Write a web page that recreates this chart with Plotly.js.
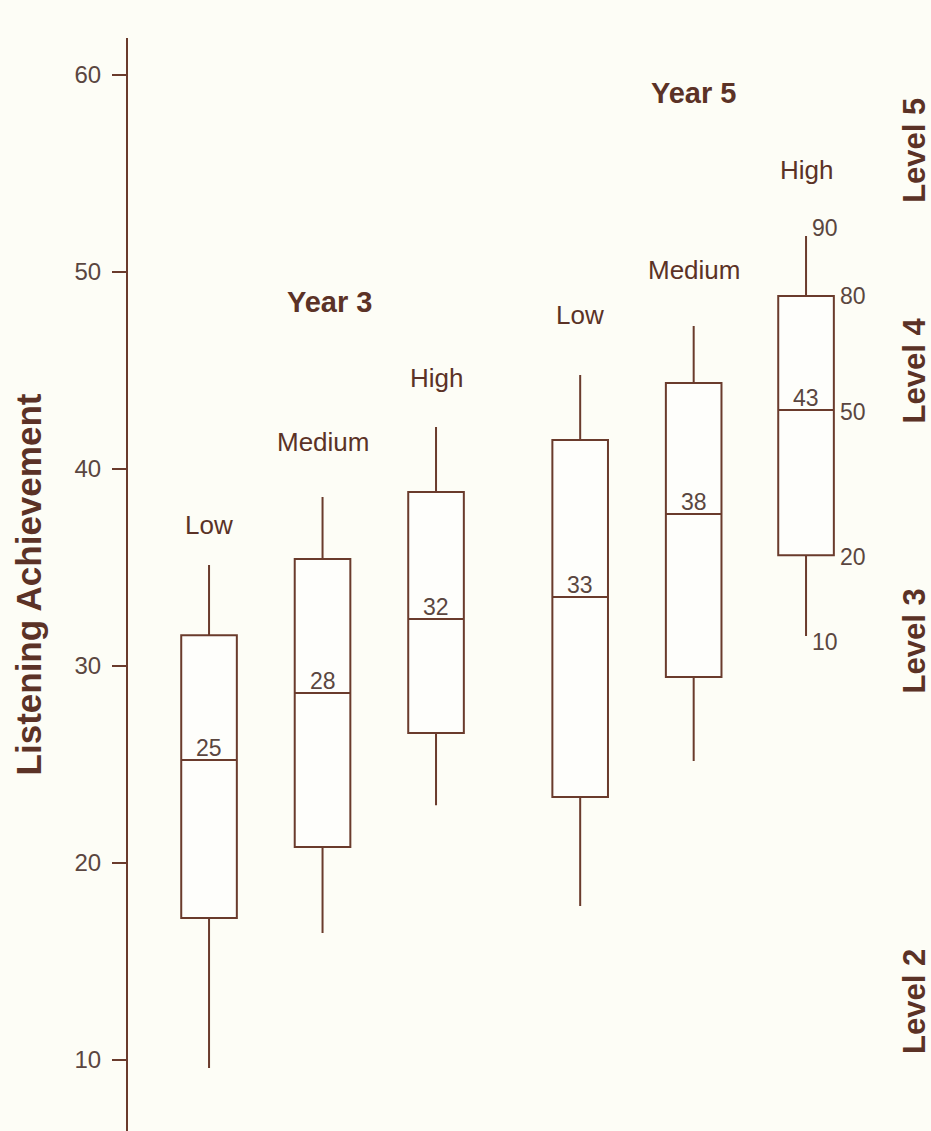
<!DOCTYPE html>
<html>
<head>
<meta charset="utf-8">
<script src="https://cdn.plot.ly/plotly-3.0.1.min.js"></script>
<style>
  html, body { margin: 0; padding: 0; background: #fdfdf6; }
  #chart { width: 931px; height: 1131px; }
</style>
</head>
<body>
<div id="chart"></div>
<script>
// ---- data ----
const groups = ['Year 3', 'Year 3', 'Year 3', 'Year 5', 'Year 5', 'Year 5'];
const categories = ['Low', 'Medium', 'High', 'Low', 'Medium', 'High'];
const positions = [1, 2, 3, 4.27, 5.27, 6.26];
const p10 = [9.6, 16.45, 22.94, 17.82, 25.18, 31.52];
const p20 = [17.21, 20.81, 26.6, 23.35, 29.44, 35.63];
const p50 = [25.23, 28.63, 32.39, 33.5, 37.72, 43.0];
const p80 = [31.57, 35.43, 38.83, 41.47, 44.37, 48.78];
const p90 = [35.13, 38.58, 42.13, 44.77, 47.26, 51.83];
const medianLabels = ['25', '28', '32', '33', '38', '43'];
const percentileLabels = ['90', '80', '50', '20', '10'];
const levels = ['Level 5', 'Level 4', 'Level 3', 'Level 2'];
const yTicks = [10, 20, 30, 40, 50, 60];

// ---- styles ----
const LINE = '#6a3b2c';
const TEXT = '#5b3226';
const TICKTEXT = '#5a4640';
const FONT = 'Liberation Sans, Arial, Helvetica, sans-serif';

const trace = {
  type: 'box',
  x: positions,
  q1: p20,
  median: p50,
  q3: p80,
  lowerfence: p10,
  upperfence: p90,
  width: 0.49,
  whiskerwidth: 0,
  boxpoints: false,
  fillcolor: '#fefefb',
  line: { color: LINE, width: 2 },
  hoverinfo: 'skip',
  showlegend: false
};

const annotations = [];

// category labels above whiskers
const labelLift = [40, 55, 49, 60, 56, 66];
categories.forEach((c, i) => {
  annotations.push({
    x: positions[i], y: p90[i], xref: 'x', yref: 'y',
    text: c, showarrow: false, xanchor: 'center', yanchor: 'middle', yshift: labelLift[i],
    font: { family: FONT, size: 26, color: TEXT }
  });
});

// median labels
medianLabels.forEach((t, i) => {
  annotations.push({
    x: positions[i], y: p50[i], xref: 'x', yref: 'y',
    text: t, showarrow: false, xanchor: 'center', yanchor: 'bottom', yshift: -3,
    font: { family: FONT, size: 23, color: TICKTEXT }
  });
});

// group labels
const groupNames = [...new Set(groups)];
const groupPlace = { 'Year 3': { x: 2.06, y: 48.5 }, 'Year 5': { x: 5.27, y: 59.1 } };
groupNames.forEach(g => {
  annotations.push({
    x: groupPlace[g].x, y: groupPlace[g].y, xref: 'x', yref: 'y',
    text: '<b>' + g + '</b>', showarrow: false, xanchor: 'center',
    font: { family: FONT, size: 29, color: TEXT }
  });
});

// percentile labels next to last box
const last = positions.length - 1;
const pctVals = [p90[last], p80[last], p50[last], p20[last], p10[last]];
const pctShiftX = [4, 32, 32, 32, 4];
const pctShiftY = [8, 0, -2, -2, -6];
percentileLabels.forEach((t, k) => {
  annotations.push({
    x: positions[last], y: pctVals[k], xref: 'x', yref: 'y',
    text: t, showarrow: false, xanchor: 'left', yanchor: 'middle',
    xshift: pctShiftX[k], yshift: pctShiftY[k],
    font: { family: FONT, size: 23, color: TICKTEXT }
  });
});

// level labels on the right
const levelY = [56.2, 45.0, 31.3, 13.0];
levels.forEach((l, k) => {
  annotations.push({
    x: 0.98, y: levelY[k], xref: 'paper', yref: 'y',
    text: '<b>' + l + '</b>', showarrow: false, textangle: -90,
    xanchor: 'center', yanchor: 'middle',
    font: { family: FONT, size: 31, color: TEXT }
  });
});

const layout = {
  width: 931, height: 1131,
  margin: { l: 128, r: 0, t: 38, b: 0, pad: 0 },
  paper_bgcolor: '#fdfdf6',
  plot_bgcolor: '#fdfdf6',
  showlegend: false,
  xaxis: { visible: false, range: [0.286, 7.361], fixedrange: true },
  yaxis: {
    range: [6.4, 61.88],
    tickvals: yTicks,
    ticktext: yTicks.map(String),
    ticks: 'outside', ticklen: 14, tickwidth: 2, tickcolor: LINE,
    ticklabelstandoff: 6,
    showline: true, linecolor: LINE, linewidth: 2,
    showgrid: false, zeroline: false,
    tickfont: { family: FONT, size: 24, color: TICKTEXT },
    title: { text: '<b>Listening Achievement</b>', standoff: 22,
             font: { family: FONT, size: 35, color: TEXT } },
    automargin: false
  },
  annotations: annotations
};

Plotly.newPlot('chart', [trace], layout, { displayModeBar: false, staticPlot: true });
</script>
</body>
</html>
